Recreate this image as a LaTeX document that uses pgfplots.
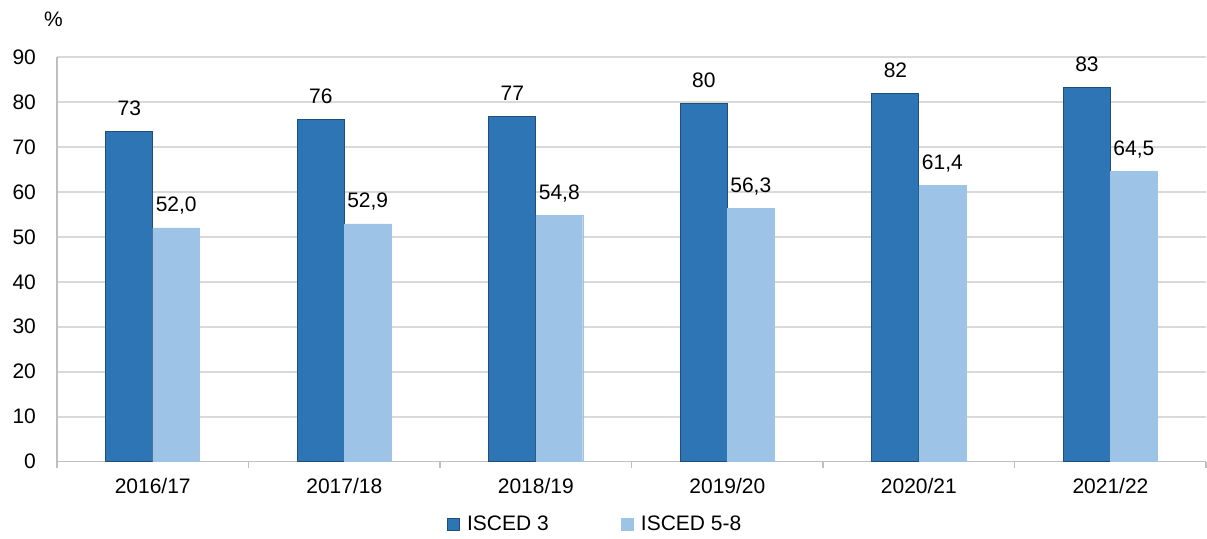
\documentclass[border=0pt]{standalone}
\usepackage{fontspec}
\setmainfont{Liberation Sans}
\usepackage{pgfplots}
\pgfplotsset{compat=1.18}
\definecolor{cdark}{HTML}{2E75B6}
\definecolor{cdarkedge}{HTML}{1F4E79}
\definecolor{clight}{HTML}{9DC3E6}
\definecolor{cgrid}{HTML}{D9D9D9}
\definecolor{caxis}{HTML}{BFBFBF}
\begin{document}
\begin{tikzpicture}[font=\fontsize{10.5}{12.6}\selectfont]
\begin{axis}[
  scale only axis, width=575pt, height=202.5pt,
  xmin=-0.5, xmax=5.5, ymin=0, ymax=90,
  ybar, bar width=0.245,
  axis x line*=bottom, axis y line*=left,
  axis line style={caxis, line width=0.8pt},
  ytick={0,10,...,90},
  ymajorgrids, major grid style={cgrid, line width=0.8pt},
  xtick={0,1,2,3,4,5},
  xticklabels={2016/17,2017/18,2018/19,2019/20,2020/21,2021/22},
  minor xtick={-0.5,0.5,1.5,2.5,3.5,4.5,5.5},
  major tick length=0pt, minor tick length=3pt,
  xtick align=outside, tick style={caxis, line width=0.8pt},
  /pgf/number format/assume math mode=true,
  yticklabel style={xshift=-7pt},
  xticklabel style={yshift=-5pt},
  tick label style={font=\fontsize{10.5}{12.6}\selectfont},
  nodes near coords, point meta=explicit symbolic,
  nodes near coords style={anchor=base, yshift=8pt, font=\fontsize{10.5}{12.6}\selectfont, text=black},
  legend style={at={(0.469,-0.1556)}, anchor=center, draw=none, legend columns=2,
    font=\fontsize{10.5}{12.6}\selectfont,
    /tikz/every even column/.append style={column sep=34pt},
    inner sep=0pt},
  legend image code/.code={\draw[#1, bar shift=0pt] (0pt,-3pt) rectangle (6pt,3pt); \path[draw=none,fill=none] (0pt,0pt) -- (8pt,0pt);},
  clip=false,
]
\addplot[fill=cdark, draw=cdarkedge, line width=0.5pt, bar shift=-0.1225] coordinates {
  (0,73.5) [73] (1,76.1) [76] (2,76.7) [77] (3,79.7) [80] (4,81.8) [82] (5,83.1) [83]};
\addplot[fill=clight, draw=clight, line width=0.2pt, bar shift=0.1225] coordinates {
  (0,52.0) [{52,0}] (1,52.9) [{52,9}] (2,54.8) [{54,8}] (3,56.3) [{56,3}] (4,61.4) [{61,4}] (5,64.5) [{64,5}]};
\legend{ISCED 3, ISCED 5-8}
\node at (rel axis cs:0,1) [xshift=-1.75pt, yshift=18.75pt] {\%};
\end{axis}
\path ([xshift=-28.5pt,yshift=-38.5pt]current axis.south west) rectangle ([yshift=28.5pt]current axis.north east);
\end{tikzpicture}
\end{document}
